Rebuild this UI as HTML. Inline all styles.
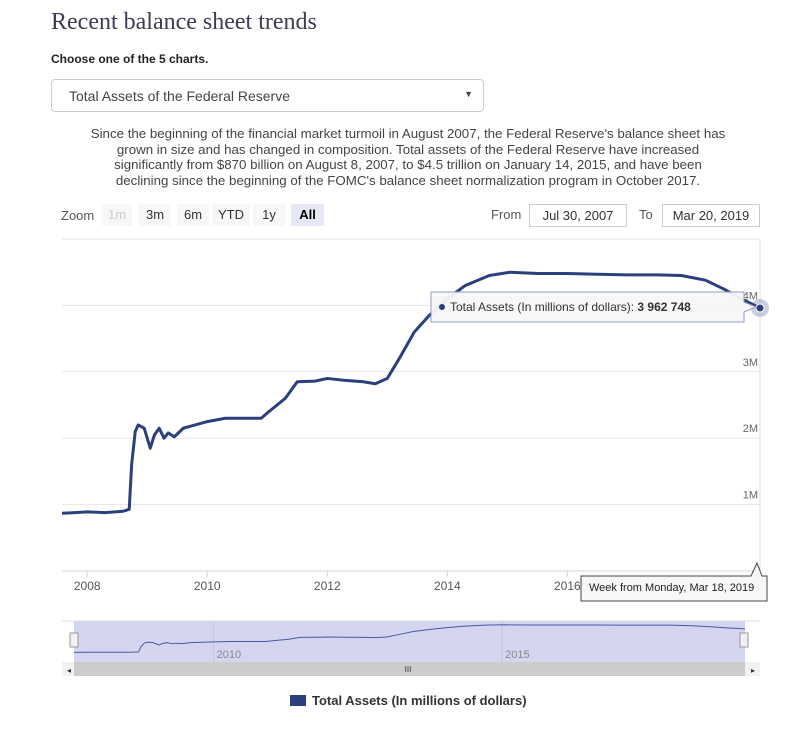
<!DOCTYPE html>
<html><head><meta charset="utf-8"><style>
body{margin:0;width:812px;height:733px;background:#fff;position:relative;overflow:hidden;font-family:"Liberation Sans",sans-serif;color:#333}
.abs{position:absolute}
.n{font-family:"Liberation Sans Narrow","Liberation Sans",sans-serif}
.btn{position:absolute;top:204px;height:22px;line-height:22px;text-align:center;background:#f7f7f7;font-size:13px;color:#333}
.inp{position:absolute;top:204px;height:21px;line-height:21px;border:1px solid #ccc;font-size:13px;text-align:center;color:#333}
</style></head><body>
<div class="abs" style="left:51px;top:9px;font:24px 'Liberation Serif',serif;color:#3c3c55">Recent balance sheet trends</div>
<div class="abs" style="left:51px;top:52px;font-size:12px;font-weight:bold;color:#222">Choose one of the 5 charts.</div>
<div class="abs" style="left:51px;top:79px;width:433px;height:33px;border:1px solid #ccc;border-radius:4px;box-sizing:border-box">
 <span class="abs" style="left:17px;top:8px;font-size:14px;color:#444">Total Assets of the Federal Reserve</span>
 <span class="abs" style="right:10px;top:9px;font-size:9px;color:#444">▼</span>
</div>
<div class="abs n" style="left:50px;top:126px;width:716px;text-align:center;font-size:13.3px;line-height:15.5px;color:#444">Since the beginning of the financial market turmoil in August 2007, the Federal Reserve's balance sheet has<br>grown in size and has changed in composition. Total assets of the Federal Reserve have increased<br>significantly from $870 billion on August 8, 2007, to $4.5 trillion on January 14, 2015, and have been<br>declining since the beginning of the FOMC's balance sheet normalization program in October 2017.</div>

<div class="abs n" style="left:61px;top:208px;font-size:13px;color:#555">Zoom</div>
<div class="btn n" style="left:102px;width:30px;color:#ccc">1m</div>
<div class="btn n" style="left:139px;width:32px">3m</div>
<div class="btn n" style="left:177px;width:32px">6m</div>
<div class="btn n" style="left:212px;width:38px">YTD</div>
<div class="btn n" style="left:253px;width:32px">1y</div>
<div class="btn n" style="left:291px;width:33px;background:#e6e9f5;font-weight:bold;color:#000">All</div>
<div class="abs n" style="left:491px;top:207px;font-size:13px;color:#555">From</div>
<div class="inp n" style="left:529px;width:96px">Jul 30, 2007</div>
<div class="abs n" style="left:639px;top:207px;font-size:13px;color:#555">To</div>
<div class="inp n" style="left:662px;width:96px">Mar 20, 2019</div>

<svg class="abs" style="left:0;top:0" width="812" height="733" id="svg" font-family="Liberation Sans Narrow, Liberation Sans, sans-serif"></svg>

<div class="abs n" style="left:290px;top:693px;font-size:13px;font-weight:bold;color:#333"><span style="display:inline-block;width:16px;height:11px;background:#2b3f7c;vertical-align:-1px;margin-right:6px"></span>Total Assets (In millions of dollars)</div>

<script>
const dates=[2007.58,2007.8,2008.0,2008.3,2008.6,2008.7,2008.74,2008.8,2008.85,2008.95,2009.05,2009.12,2009.2,2009.28,2009.35,2009.45,2009.6,2009.8,2010.0,2010.3,2010.6,2010.9,2011.0,2011.3,2011.5,2011.8,2012.0,2012.3,2012.6,2012.8,2013.0,2013.2,2013.45,2013.7,2014.0,2014.3,2014.7,2015.05,2015.5,2016.0,2016.5,2017.0,2017.5,2017.9,2018.3,2018.6,2018.9,2019.21];
const values=[0.87,0.88,0.89,0.88,0.90,0.93,1.6,2.1,2.2,2.15,1.85,2.05,2.15,2.0,2.08,2.02,2.15,2.2,2.25,2.3,2.3,2.3,2.38,2.6,2.85,2.86,2.9,2.87,2.85,2.82,2.9,3.2,3.6,3.85,4.1,4.3,4.45,4.5,4.48,4.48,4.47,4.46,4.46,4.45,4.38,4.25,4.1,3.96];
const yTicks=[1,2,3,4,5];
const yTickLabels=['1M','2M','3M','4M',''];
const xTicks=[2008,2010,2012,2014,2016];
const navTicks=[2010,2015];
const ns='http://www.w3.org/2000/svg';
const svg=document.getElementById('svg');
const X0=2007.58,X1=2019.21;
const x=d=>62+(d-X0)/(X1-X0)*698;
const y=v=>571-v*66.4;
const nx=d=>74+(d-X0)/(X1-X0)*671;
const ny=v=>659-v*7.6;
function mk(t,a){const e=document.createElementNS(ns,t);for(const k in a)e.setAttribute(k,a[k]);svg.appendChild(e);return e;}
yTicks.forEach((v,i)=>{
 const g=mk('line',{x1:62,x2:760,y1:y(v),y2:y(v),stroke:'#e6e6e6'});
 
 
 if(yTickLabels[i]){const t=mk('text',{x:758,y:y(v)-6,'text-anchor':'end','font-size':11,fill:'#666'});t.textContent=yTickLabels[i];
 
 }
});
mk('line',{x1:62,x2:760,y1:571,y2:571,stroke:'#ccd6eb'});
mk('line',{x1:760,x2:760,y1:240,y2:571,stroke:'#ddd'});
xTicks.forEach(d=>{
 mk('line',{x1:x(d),x2:x(d),y1:571,y2:577,stroke:'#ccd6eb'});
 const t=mk('text',{x:x(d),y:590,'text-anchor':'middle','font-size':12,fill:'#555'});t.textContent=d;
 
 
});
const p=mk('polyline',{points:dates.map((d,i)=>x(d)+','+y(values[i])).join(' '),fill:'none',stroke:'#2b3f7c','stroke-width':3,'stroke-linejoin':'round'});


// navigator
mk('line',{x1:62,x2:760,y1:621,y2:621,stroke:'#ddd'});
mk('rect',{x:74,y:621,width:671,height:41,fill:'#d3d6ee'});
navTicks.forEach(d=>{mk('line',{x1:nx(d),x2:nx(d),y1:621,y2:662,stroke:'#c4c6dc'});const t=mk('text',{x:nx(d)+3,y:658,'font-size':11,fill:'#888'});t.textContent=d;});
const np=mk('polyline',{points:dates.map((d,i)=>nx(d)+','+ny(values[i])).join(' '),fill:'none',stroke:'#4a5aa0','stroke-width':1});


[74,744].forEach(hx=>{const h=mk('rect',{x:hx-4,y:633,width:8,height:14,fill:'#f2f2f2',stroke:'#999'});
 
 });
mk('rect',{x:62,y:662,width:698,height:14,fill:'#f2f2f2'});
const sb=mk('rect',{x:74,y:662,width:671,height:14,fill:'#cccccc'});


mk('text',{x:69,y:673,'font-size':8,fill:'#333','text-anchor':'middle'}).textContent='◂';
mk('text',{x:753,y:673,'font-size':8,fill:'#333','text-anchor':'middle'}).textContent='▸';
mk('text',{x:408,y:672,'font-size':8,fill:'#333','text-anchor':'middle'}).textContent='III';
// tooltip
const lx=x(dates[dates.length-1]),lv=y(values[values.length-1]);
mk('circle',{cx:lx,cy:lv,r:9,fill:'#2b3f7c','fill-opacity':0.25});
mk('circle',{cx:lx,cy:lv,r:4,fill:'#2b3f7c',stroke:'#fff'});
const tb=mk('path',{d:`M431 292 H744 V302 L756 307 L744 312 V322 H431 Z`,fill:'#f7f7f7','fill-opacity':0.95,stroke:'#8f9bc4','stroke-width':1});


mk('circle',{cx:442,cy:307,r:3,fill:'#2b3f7c'});
const tt=mk('text',{x:450,y:311,'font-size':12,fill:'#333'});
tt.innerHTML='Total Assets (In millions of dollars): <tspan font-weight="bold">3 962 748</tspan>';
const dl=mk('path',{d:'M581 576 H751 L757 563 L762 576 H767 V601 H581 Z',fill:'#f7f7f7',stroke:'#444','stroke-width':1});


mk('text',{x:589,y:591,'font-size':11,fill:'#222'}).textContent='Week from Monday, Mar 18, 2019';
</script>
</body></html>
